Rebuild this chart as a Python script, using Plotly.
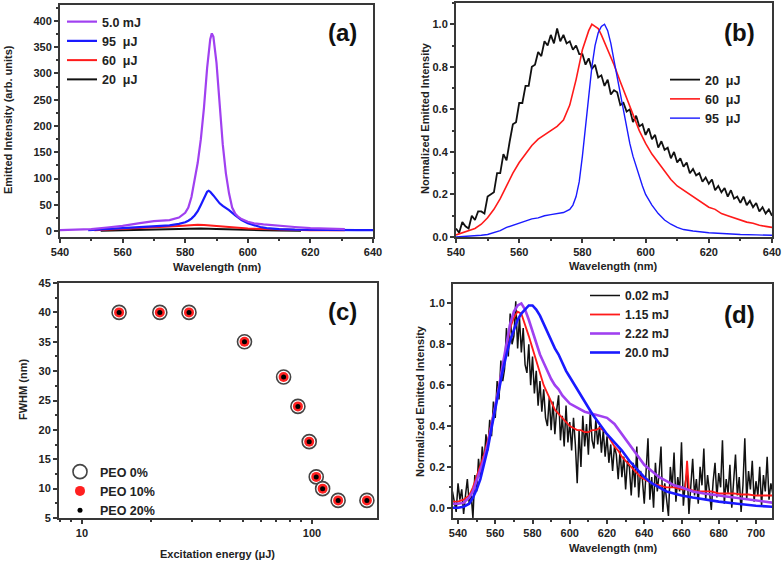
import plotly.graph_objects as go

W, H = 784, 562
FONT = "Liberation Sans, Arial, sans-serif"

# ---------------- Panel (a) data ----------------
a_purple_x = [540, 545, 550, 555, 560, 565, 570, 575, 578, 580, 581, 582, 583, 584, 585, 586, 587, 588, 588.5,
              589, 590, 591, 592, 593, 594, 595, 596, 597, 598, 600, 602, 605, 610, 615, 620, 625, 631]
a_purple_y = [2, 3, 4, 7, 10, 15, 19, 21, 26, 35, 45, 65, 95, 130, 175, 235, 310, 365, 376,
              370, 320, 240, 165, 110, 72, 45, 33, 27, 23, 18, 15, 13, 10, 8, 6, 5, 4]
a_blue_x = [549, 552, 556, 560, 565, 570, 575, 578, 580, 581, 582, 583, 584, 585, 586, 587, 587.5, 588, 589,
            590, 591, 592, 593, 594, 596, 598, 600, 602, 604, 606, 608, 610, 615, 620, 625, 630, 635, 640]
a_blue_y = [2, 3, 5, 6, 8, 9, 11, 14, 17, 20, 24, 30, 38, 50, 64, 75, 77, 75, 68,
            60, 53, 48, 44, 40, 30, 21, 15, 11, 8, 6, 5, 4, 3, 2.5, 2, 2, 2, 2]
a_red_x = [551, 555, 560, 565, 570, 575, 578, 580, 582, 584, 586, 588, 590, 593, 596, 600, 605, 610, 615, 620, 625, 631]
a_red_y = [2, 3, 4, 6, 7, 9, 10, 11, 12, 12.5, 12, 11, 9, 8, 7, 5, 4, 3, 3, 2, 2, 2]
a_black_x = [553, 560, 565, 570, 575, 580, 585, 590, 595, 600, 605, 610, 617]
a_black_y = [1, 2, 3, 3, 4, 4.5, 5, 4, 3, 2.5, 2, 1.5, 1]
a_labels = ["5.0 mJ", "95  μJ", "60  μJ", "20  μJ"]

# ---------------- Panel (b) data ----------------
b_black_y = [0.04, 0.02, 0.07, 0.05, 0.04, 0.10, 0.08, 0.12, 0.12, 0.11, 0.19, 0.20, 0.21, 0.30, 0.30, 0.39, 0.36,
             0.45, 0.53, 0.54, 0.63, 0.63, 0.71, 0.71, 0.80, 0.81, 0.87, 0.85, 0.92, 0.90, 0.95, 0.91, 0.98, 0.92,
             0.95, 0.91, 0.92, 0.88, 0.90, 0.86, 0.86, 0.81, 0.84, 0.79, 0.81, 0.75, 0.76, 0.71, 0.74, 0.67, 0.69,
             0.68, 0.62, 0.63, 0.59, 0.60, 0.54, 0.57, 0.52, 0.53, 0.48, 0.51, 0.46, 0.48, 0.42, 0.45, 0.41, 0.42,
             0.37, 0.40, 0.35, 0.37, 0.33, 0.35, 0.30, 0.32, 0.29, 0.30, 0.26, 0.28, 0.25, 0.27, 0.22, 0.24, 0.21,
             0.23, 0.19, 0.22, 0.18, 0.19, 0.16, 0.19, 0.15, 0.17, 0.14, 0.16, 0.12, 0.14, 0.11, 0.13, 0.10]
b_black_x = list(range(540, 540 + len(b_black_y)))
b_red_x = [540, 542, 544, 546, 548, 550, 552, 554, 556, 558, 560, 562, 564, 566, 568, 570, 572, 574, 576, 578,
           580, 582, 583, 584, 585, 586, 588, 590, 592, 594, 596, 598, 600, 602, 604, 606, 608, 610, 612, 614,
           616, 618, 620, 622, 624, 626, 628, 630, 632, 634, 636, 638, 640]
b_red_y = [0.01, 0.02, 0.03, 0.04, 0.06, 0.09, 0.13, 0.18, 0.24, 0.30, 0.35, 0.39, 0.43, 0.46, 0.48, 0.50, 0.52,
           0.55, 0.62, 0.74, 0.88, 0.97, 1.00, 0.99, 0.98, 0.95, 0.88, 0.81, 0.73, 0.65, 0.57, 0.50, 0.44, 0.39,
           0.35, 0.31, 0.27, 0.24, 0.22, 0.20, 0.18, 0.16, 0.14, 0.13, 0.11, 0.10, 0.09, 0.08, 0.07, 0.065, 0.055,
           0.05, 0.045]
b_blue_x = [540, 544, 548, 550, 552, 554, 556, 558, 560, 562, 564, 566, 568, 570, 572, 574, 576, 577, 578, 579,
            580, 581, 582, 583, 584, 585, 586, 587, 588, 589, 590, 591, 592, 593, 594, 595, 596, 597, 598, 599,
            600, 602, 604, 606, 608, 610, 612, 615, 620, 625, 630, 635, 640]
b_blue_y = [0.0, 0.003, 0.008, 0.012, 0.02, 0.03, 0.045, 0.055, 0.065, 0.075, 0.085, 0.09, 0.10, 0.105, 0.11,
            0.115, 0.13, 0.15, 0.19, 0.26, 0.38, 0.53, 0.67, 0.80, 0.90, 0.96, 0.99, 1.00, 0.97, 0.91, 0.83, 0.75,
            0.67, 0.59, 0.51, 0.44, 0.38, 0.33, 0.28, 0.24, 0.20, 0.15, 0.11, 0.08, 0.06, 0.045, 0.035, 0.028,
            0.02, 0.015, 0.012, 0.01, 0.008]
b_labels = ["20  μJ", "60  μJ", "95  μJ"]

# ---------------- Panel (c) data ----------------
c_energy = [14.5, 21.8, 29.2, 50.9, 75.3, 86.9, 97.3, 104.4, 111.3, 130, 173.4]
c_fwhm = [40, 40, 40, 35, 29, 24, 18, 12, 10, 8, 8]
c_labels = ["PEO 0%", "PEO 10%", "PEO 20%"]

# ---------------- Panel (d) data ----------------
d_black_y = [0.08, 0.02, -0.02, 0.12, 0.04, 0.09, -0.03, 0.06, 0.14, 0.02, 0.07, -0.05,
             0.16, 0.08, 0.24, 0.15, 0.30, 0.22, 0.36, 0.28, 0.43, 0.35, 0.52, 0.44, 0.62, 0.53, 0.72, 0.62,
             0.68, 0.88, 0.74, 0.95, 0.80, 0.84, 1.01, 0.78, 0.93, 0.76, 0.88, 0.70, 0.66, 0.80, 0.60, 0.74,
             0.56, 0.67, 0.50, 0.62, 0.47, 0.58, 0.44, 0.40, 0.54, 0.38, 0.52, 0.36, 0.48, 0.55, 0.33, 0.45,
             0.30, 0.50, 0.32, 0.42, 0.28, 0.44, 0.31, 0.12, 0.38, 0.20, 0.45, 0.30, 0.41, 0.26, 0.47, 0.33,
             0.29, 0.43, 0.31, 0.40, 0.27, 0.38, 0.25, 0.35, 0.22, 0.31, 0.18, 0.30, 0.26, 0.14, 0.28, 0.15,
             0.25, 0.09, 0.23, 0.20, 0.06, 0.22, 0.10, 0.30, 0.05, 0.18, 0.14, 0.02, 0.20, 0.34, 0.04, 0.15,
             0.00, 0.22, 0.08, 0.17, 0.30, -0.02, 0.12, 0.05, -0.04, 0.20, 0.10, 0.27, 0.03, 0.15, 0.08, 0.32,
             0.01, 0.12, 0.18, -0.03, 0.10, 0.24, 0.06, 0.14, 0.02, 0.20, 0.11, 0.29, 0.04, 0.16, 0.08, -0.01,
             0.13, 0.22, 0.05, 0.17, 0.10, 0.33, 0.02, 0.14, 0.07, 0.21, 0.00, 0.12, 0.26, 0.06, 0.15, -0.02,
             0.11, 0.34, 0.04, 0.18, 0.09, 0.23, 0.03, 0.13, 0.06, 0.20, 0.01, 0.16, 0.08, 0.25, 0.04, 0.12,
             0.07]
d_black_x = list(range(537, 537 + len(d_black_y)))
d_red_x = [537, 540, 543, 546, 548, 550, 552, 554, 556, 558, 560, 562, 564, 566, 568, 570, 572, 574, 576, 578, 580,
           582, 584, 586, 588, 590, 592, 594, 596, 598, 600, 602, 604, 606, 608, 610, 612, 614, 616, 618, 620, 622,
           624, 626, 628, 630, 632, 634, 636, 638, 640, 644, 648, 652, 656, 660, 662, 663, 664, 668, 672, 676, 680,
           684, 688, 692, 696, 700, 704, 709]
d_red_y = [0.03, 0.03, 0.04, 0.06, 0.10, 0.15, 0.20, 0.26, 0.33, 0.41, 0.50, 0.60, 0.70, 0.80, 0.88, 0.93, 0.96,
           0.95, 0.90, 0.84, 0.78, 0.72, 0.66, 0.60, 0.56, 0.52, 0.48, 0.46, 0.44, 0.42, 0.40, 0.39, 0.38, 0.38,
           0.37, 0.37, 0.38, 0.38, 0.39, 0.38, 0.36, 0.33, 0.30, 0.28, 0.25, 0.23, 0.21, 0.19, 0.17, 0.15, 0.14,
           0.12, 0.11, 0.10, 0.10, 0.09, 0.09, 0.23, 0.09, 0.08, 0.08, 0.08, 0.07, 0.07, 0.07, 0.065, 0.065, 0.06,
           0.06, 0.06]
d_purple_x = [537, 540, 543, 546, 548, 550, 552, 554, 556, 558, 560, 562, 564, 566, 568, 570, 572, 574, 576, 578,
              580, 582, 584, 586, 588, 590, 592, 594, 596, 598, 600, 604, 608, 612, 616, 620, 624, 628, 632, 636,
              640, 644, 648, 652, 656, 660, 666, 672, 680, 690, 700, 709]
d_purple_y = [0.02, 0.02, 0.025, 0.05, 0.08, 0.13, 0.18, 0.24, 0.31, 0.40, 0.49, 0.59, 0.70, 0.81, 0.90, 0.96,
              0.99, 1.00, 0.97, 0.92, 0.86, 0.80, 0.75, 0.71, 0.67, 0.63, 0.60, 0.58, 0.55, 0.53, 0.51, 0.49, 0.47,
              0.46, 0.45, 0.44, 0.41, 0.36, 0.31, 0.26, 0.21, 0.18, 0.15, 0.13, 0.11, 0.10, 0.08, 0.07, 0.06, 0.045,
              0.035, 0.025]
d_blue_x = [537, 540, 543, 546, 548, 550, 552, 554, 556, 558, 560, 562, 564, 566, 568, 570, 572, 574, 576, 578,
            580, 582, 584, 586, 588, 590, 592, 594, 596, 598, 600, 604, 608, 612, 616, 620, 624, 628, 632, 636, 640,
            644, 648, 652, 656, 660, 666, 672, 680, 690, 700, 709]
d_blue_y = [0.0, 0.0, 0.005, 0.02, 0.05, 0.09, 0.14, 0.21, 0.29, 0.39, 0.49, 0.58, 0.67, 0.75, 0.82, 0.87, 0.92,
            0.95, 0.97, 0.99, 0.99, 0.97, 0.94, 0.90, 0.86, 0.82, 0.78, 0.75, 0.71, 0.67, 0.64, 0.58, 0.52, 0.46,
            0.41, 0.36, 0.32, 0.28, 0.23, 0.19, 0.15, 0.12, 0.10, 0.08, 0.07, 0.06, 0.05, 0.04, 0.03, 0.02, 0.01,
            0.005]
d_labels = ["0.02 mJ", "1.15 mJ", "2.22 mJ", "20.0 mJ"]

PURPLE = "#a040f0"
BLUE = "#1a1aff"
RED = "#ff1a1a"
BLACK = "#111111"
AXC = "#383838"


def px(x):
    return x / W


def py(y):
    return 1 - y / H


fig = go.Figure()

# (a)
for xs, ys, col, lab, lw in [(a_black_x, a_black_y, BLACK, a_labels[3], 2),
                             (a_red_x, a_red_y, RED, a_labels[2], 2),
                             (a_blue_x, a_blue_y, BLUE, a_labels[1], 2.2),
                             (a_purple_x, a_purple_y, PURPLE, a_labels[0], 2.2)]:
    fig.add_trace(go.Scatter(x=xs, y=ys, mode="lines", name=lab, line=dict(color=col, width=lw),
                             xaxis="x", yaxis="y", legend="legend"))

# (b)
for xs, ys, col, lab, lw in [(b_black_x, b_black_y, BLACK, b_labels[0], 1.8),
                             (b_red_x, b_red_y, RED, b_labels[1], 1.6),
                             (b_blue_x, b_blue_y, BLUE, b_labels[2], 1.4)]:
    fig.add_trace(go.Scatter(x=xs, y=ys, mode="lines", name=lab, line=dict(color=col, width=lw),
                             xaxis="x2", yaxis="y2", legend="legend2"))

# (c)
fig.add_trace(go.Scatter(x=c_energy, y=c_fwhm, mode="markers", name=c_labels[0],
                         marker=dict(color="white", size=14, line=dict(color="#444444", width=1.6)),
                         xaxis="x3", yaxis="y3", legend="legend3"))
fig.add_trace(go.Scatter(x=c_energy, y=c_fwhm, mode="markers", name=c_labels[1],
                         marker=dict(color="#ff2020", size=10, line=dict(width=0)),
                         xaxis="x3", yaxis="y3", legend="legend3"))
fig.add_trace(go.Scatter(x=c_energy, y=c_fwhm, mode="markers", name=c_labels[2],
                         marker=dict(color="black", size=5, line=dict(width=0)),
                         xaxis="x3", yaxis="y3", legend="legend3"))

# (d)
for xs, ys, col, lab, lw in [(d_black_x, d_black_y, BLACK, d_labels[0], 1.5),
                             (d_red_x, d_red_y, RED, d_labels[1], 1.8),
                             (d_purple_x, d_purple_y, PURPLE, d_labels[2], 2.6),
                             (d_blue_x, d_blue_y, BLUE, d_labels[3], 2.6)]:
    fig.add_trace(go.Scatter(x=xs, y=ys, mode="lines", name=lab, line=dict(color=col, width=lw),
                             xaxis="x4", yaxis="y4", legend="legend4"))

tickfont = dict(family=FONT, size=11, color="#222", weight="bold")
common = dict(showline=True, linecolor=AXC, linewidth=2, mirror=True, ticks="outside", ticklen=4,
              tickwidth=1.5, tickcolor=AXC, showgrid=False, zeroline=False, tickfont=tickfont,
              automargin=False)

fig.update_layout(
    width=W, height=H, margin=dict(l=0, r=0, t=0, b=0, autoexpand=False),
    paper_bgcolor="white", plot_bgcolor="white", showlegend=True,
    xaxis=dict(domain=[px(60), px(373)], range=[540, 640], dtick=20, anchor="y",
               minor=dict(dtick=10, ticklen=2, tickcolor=AXC, ticks="outside"), **common),
    yaxis=dict(domain=[py(237), py(5)], range=[-11, 430], dtick=50, anchor="x",
               minor=dict(dtick=25, ticklen=2, tickcolor=AXC, ticks="outside"), **common),
    xaxis2=dict(domain=[px(456), px(772)], range=[540, 640], dtick=20, anchor="y2",
                minor=dict(dtick=10, ticklen=2, tickcolor=AXC, ticks="outside"), **common),
    yaxis2=dict(domain=[py(237), py(3)], range=[0, 1.1], dtick=0.2, tickformat=".1f", anchor="x2",
                minor=dict(dtick=0.1, ticklen=2, tickcolor=AXC, ticks="outside"), **common),
    xaxis3=dict(domain=[px(59), px(377)], type="log", range=[0.9, 2.283], tickvals=[10, 100], anchor="y3",
                minor=dict(tickvals=[8, 9, 20, 30, 40, 50, 60, 70, 80, 90, 200], ticklen=2, tickcolor=AXC,
                           ticks="outside"), **common),
    yaxis3=dict(domain=[py(518), py(283)], range=[5, 45], dtick=5, anchor="x3",
                minor=dict(dtick=2.5, ticklen=2, tickcolor=AXC, ticks="outside"), **common),
    xaxis4=dict(domain=[px(453), px(772)], range=[537.3, 708.6], dtick=20, anchor="y4",
                minor=dict(dtick=10, ticklen=2, tickcolor=AXC, ticks="outside"), **common),
    yaxis4=dict(domain=[py(518), py(284)], range=[-0.05, 1.095], dtick=0.2, tickformat=".1f", anchor="x4",
                minor=dict(dtick=0.1, ticklen=2, tickcolor=AXC, ticks="outside"), **common),
)


def legfont(size):
    return dict(family=FONT, size=size, color="#222", weight="bold")


legcommon = dict(bgcolor="rgba(0,0,0,0)", borderwidth=0, xanchor="left", yanchor="top",
                 itemclick=False, tracegroupgap=0)
fig.update_layout(
    legend=dict(x=px(62), y=py(7), traceorder="reversed", font=legfont(12.5), **legcommon),
    legend2=dict(x=px(665), y=py(65), traceorder="normal", font=legfont(12.5), **legcommon),
    legend3=dict(x=px(60), y=py(457), traceorder="normal", font=legfont(12.5), **legcommon),
    legend4=dict(x=px(585), y=py(281), traceorder="normal", font=legfont(12), **legcommon),
)

titlefont = dict(family=FONT, size=11, color="#222", weight="bold")
ann = [
    ("Emitted Intensity (arb. units)", 8, 120, -90),
    ("Wavelength (nm)", 217, 267, 0),
    ("Normalized Emitted Intensity", 425, 118, -90),
    ("Wavelength (nm)", 613, 266, 0),
    ("FWHM (nm)", 23, 390, -90),
    ("Excitation energy (μJ)", 217, 554, 0),
    ("Normalized Emitted Intensity", 420, 401, -90),
    ("Wavelength (nm)", 613, 548, 0),
]
for text, x, y, ang in ann:
    fig.add_annotation(text=text, x=px(x), y=py(y), xref="paper", yref="paper", showarrow=False,
                       textangle=ang, font=titlefont, xanchor="center", yanchor="middle")

panelfont = dict(family=FONT, size=24, color="#111", weight="bold")
for text, x, y in [("(a)", 342, 32), ("(b)", 739, 33), ("(c)", 342, 311), ("(d)", 739, 314)]:
    fig.add_annotation(text=text, x=px(x), y=py(y), xref="paper", yref="paper", showarrow=False,
                       font=panelfont, xanchor="center", yanchor="middle")

fig.write_html("out.html", post_script="document.body.style.margin='0px';",
               config={"displayModeBar": False})
